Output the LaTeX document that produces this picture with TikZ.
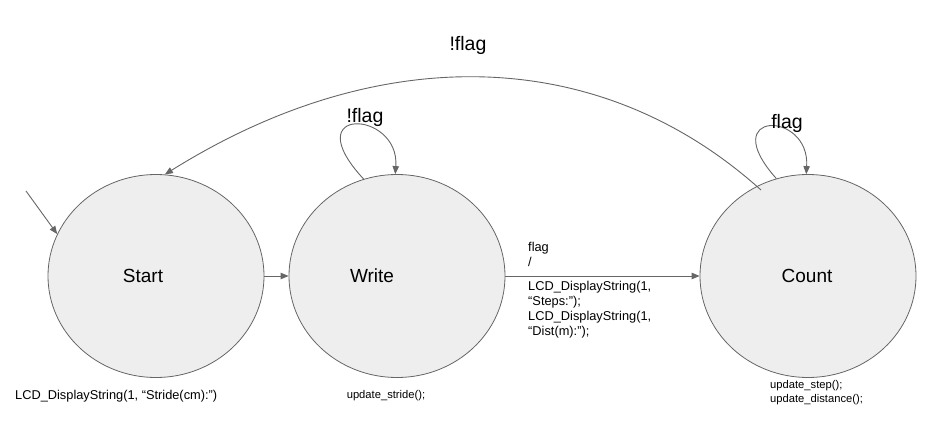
\documentclass[tikz,border=0pt]{standalone}
\usepackage{fontspec}
\setmainfont{Liberation Sans}
\usetikzlibrary{shapes.geometric,arrows.meta}
\definecolor{linegray}{HTML}{666666}
\definecolor{fillgray}{HTML}{EEEEEE}
\tikzset{
  state/.style={ellipse, draw=linegray, fill=fillgray, line width=0.8pt,
    minimum width=216pt, minimum height=203pt, inner sep=0pt},
  statename/.style={font=\fontsize{19}{23}\selectfont, inner sep=0pt},
  edge/.style={draw=linegray, line width=0.9pt, -{Triangle[length=8pt,width=6.5pt]}},
  guard/.style={font=\fontsize{19.5}{23}\selectfont, inner sep=0pt},
  action/.style={font=\fontsize{12.8}{15}\selectfont, align=left, inner sep=0pt},
  update/.style={font=\fontsize{11.2}{14}\selectfont, align=left, inner sep=0pt}
}

\begin{document}
\begin{tikzpicture}[x=1pt,y=-1pt]
			\useasboundingbox (0,0) rectangle (948,431);
			\node[state] (start) at (156,276) {};
			\node[state] (write) at (397,276) {};
			\node[state] (count) at (808,276) {};
			\node[statename] (startname) at (143,276) {Start};
			\node[statename] (writename) at (372,276) {Write};
			\node[statename] (countname) at (807,276) {Count};
			\coordinate (entry) at (26,191);
			\coordinate (backfrom) at (761,190);
			\draw[edge] (entry) -- (start.157);
			\draw[edge] (start.east) -- (write.west);
			\draw[edge] (write.east) -- (count.west);
			\draw[edge] (write.109) .. controls (295,105) and (400,110) .. (write.91);
			\draw[edge] (count.108) .. controls (715,110) and (810,110) .. (count.91);
			\draw[edge] (backfrom) .. controls (600,45) and (380,40) .. (start.85);
			\node[guard] (writeguard) at (365,117) {!flag};
			\node[guard] (countguard) at (787,123) {flag};
			\node[guard] (backguard) at (468,45) {!flag};
			\node[action, anchor=north west] (goaction) at (528,242)
				{flag\\ /\\[9pt] LCD\_DisplayString(1,\\ “Steps:”);\\ LCD\_DisplayString(1,\\ “Dist(m):”);};
			\node[action, anchor=west] (startaction) at (15,396) {LCD\_DisplayString(1, “Stride(cm):”)};
			\node[update] (writeaction) at (386,396) {update\_stride();};
			\node[update, anchor=north west] (countaction) at (770,380) {update\_step();\\ update\_distance();};
		\end{tikzpicture}
\end{document}
